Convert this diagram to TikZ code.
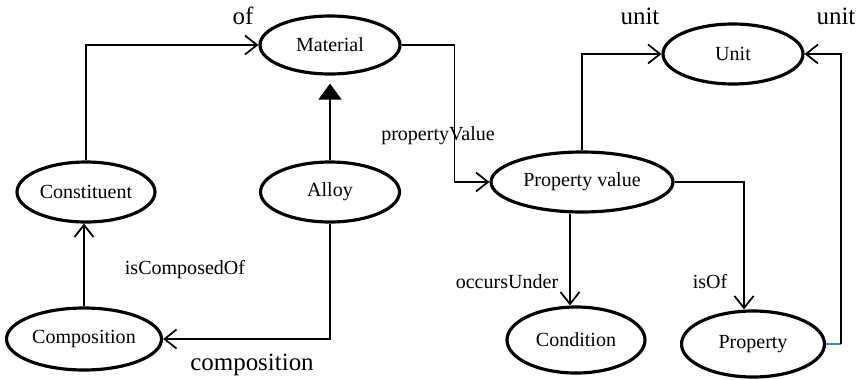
\documentclass[tikz,border=0pt]{standalone}
\usepackage{fontspec}
\setmainfont{Liberation Serif}
\usetikzlibrary{shapes.geometric,arrows.meta}
\definecolor{linkblue}{HTML}{4A7EBB}
\begin{document}
\begin{tikzpicture}[
    every node/.style={font=\fontsize{11.4}{13}\selectfont},
    classe/.style={ellipse,draw,line width=1.8pt,inner sep=0pt},
    lien/.style={-{Straight Barb[length=0.24cm,width=0.38cm]},line width=1pt},
    herite/.style={-{Triangle[length=0.32cm,width=0.46cm]},line width=1pt,shorten >=0.16cm},
    grand/.style={font=\fontsize{14.2}{16}\selectfont}]
    \useasboundingbox (0,0) rectangle (17.18,7.58);
    % Classes (ellipses)
    \node[classe,minimum width=2.8cm,minimum height=1.16cm] (material) at (6.60,6.68) {Material};
    \node[classe,minimum width=2.8cm,minimum height=1.2cm] (unit) at (14.66,6.50) {Unit};
    \node[classe,minimum width=2.76cm,minimum height=1.2cm] (constituent) at (1.72,3.74) {Constituent};
    \node[classe,minimum width=2.78cm,minimum height=1.2cm] (alloy) at (6.60,3.74) {Alloy};
    \node[classe,minimum width=3.64cm,minimum height=1.2cm] (pvalue) at (11.64,3.94) {Property value};
    \node[classe,minimum width=3.1cm,minimum height=1.24cm] (composition) at (1.68,0.80) {Composition};
    \node[classe,minimum width=2.76cm,minimum height=1.32cm] (condition) at (11.52,0.78) {Condition};
    \node[classe,minimum width=2.86cm,minimum height=1.32cm] (property) at (15.06,0.70) {Property};

    % Relations
    \draw[lien] (constituent.north) |- (material.west);
    \draw[herite] (alloy.north) -- (material.south);
    \draw[lien] (material.east) -- ++(1.06,0) |- (pvalue.west);
    \draw[lien] (pvalue.north) |- (unit.west);
    \draw[lien] (pvalue.east) -| ([xshift=-0.18cm]property.north);
    \draw[lien] ([xshift=-0.12cm]condition.north |- pvalue.south) -- ([xshift=-0.12cm]condition.north);
    \coordinate (coin) at (16.82,0.66);
    \draw[linkblue,line width=1pt] (property.east) -- (property.east -| coin);
    \draw[lien] (property.east -| coin) |- (unit.east);
    \draw[lien] (alloy.south) |- (composition.east);
    \draw[lien] (composition.north) -- (composition.north |- constituent.south);

    % Noms des relations
    \node[grand] (lof) at (4.86,7.26) {of};
    \node[grand] (lunit) at (12.80,7.26) {unit};
    \node[grand] (lunitb) at (16.72,7.26) {unit};
    \node (lpvalue) at (8.76,4.86) {propertyValue};
    \node (lcomposed) at (3.70,2.18) {isComposedOf};
    \node[grand] (lcomposition) at (5.04,0.28) {composition};
    \node (loccurs) at (10.14,1.94) {occursUnder};
    \node (lisof) at (14.20,1.94) {isOf};
\end{tikzpicture}
\end{document}
